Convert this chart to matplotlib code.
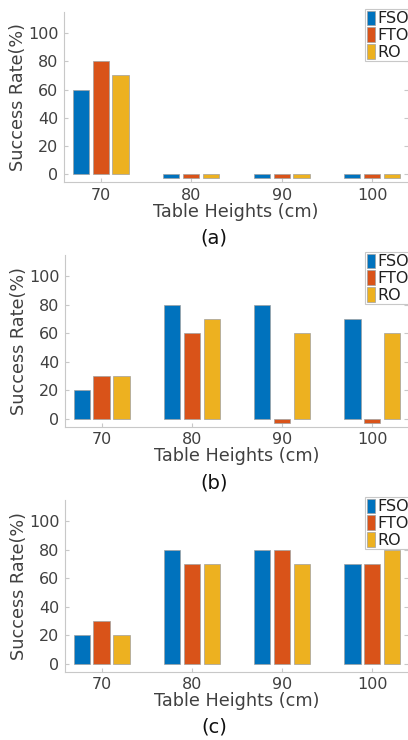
import matplotlib
matplotlib.use("Agg")
import matplotlib.pyplot as plt
import numpy as np

categories = ["70", "80", "90", "100"]
series_names = ["FSO", "FTO", "RO"]
colors = ["#0072BD", "#D95319", "#EDB120"]

# zero values are drawn as small negative stubs (as in the original)
panel_a = {"FSO": [60, -3, -3, -3], "FTO": [80, -3, -3, -3], "RO": [70, -3, -3, -3]}
panel_b = {"FSO": [20, 80, 80, 70], "FTO": [30, 60, -3, -3], "RO": [30, 70, 60, 60]}
panel_c = {"FSO": [20, 80, 80, 70], "FTO": [30, 70, 80, 70], "RO": [20, 70, 70, 80]}
panels = [panel_a, panel_b, panel_c]
panel_tags = ["(a)", "(b)", "(c)"]
yticks = [0, 20, 40, 60, 80, 100]

W, H = 408, 740
fig = plt.figure(figsize=(W / 100, H / 100), dpi=100)

# (left px, top px, bottom px)
boxes = [(64, 12, 182), (65, 255, 426.7), (65, 500, 671.7)]
tag_y = [238, 483, 727]

axis_gray = "#c8c8c8"
text_gray = "#404040"

x = np.arange(1, len(categories) + 1)
offsets = [-0.22, 0.0, 0.22]
bw = 0.18

for data, (lpx, tpx, bpx), tag, ty in zip(panels, boxes, panel_tags, tag_y):
    axw = W - lpx
    axh = bpx - tpx
    ax = fig.add_axes([lpx / W, (H - bpx) / H, axw / W, axh / H])
    for name, col, off in zip(series_names, colors, offsets):
        ax.bar(x + off, data[name], width=bw, color=col, edgecolor="#a0a0a0",
               linewidth=0.5, label=name, zorder=2)
    ax.set_xlim(0.595, 4.395)
    ax.set_ylim(-5.6, 115)
    ax.set_xticks(x)
    ax.set_xticklabels(categories)
    ax.set_yticks(yticks)
    for s in ["top", "right"]:
        ax.spines[s].set_visible(False)
    for s in ["left", "bottom"]:
        ax.spines[s].set_color(axis_gray)
        ax.spines[s].set_linewidth(0.8)
    ax.tick_params(axis="both", direction="in", length=3, color=axis_gray,
                   labelsize=11.5, labelcolor=text_gray, pad=4)
    ax.tick_params(axis="y", right=True)
    ax.set_xlabel("Table Heights (cm)", fontsize=12.7, color=text_gray, labelpad=0)
    ax.set_ylabel("Success Rate(%)", fontsize=12.7, color=text_gray, labelpad=1)
    leg = ax.legend(loc="upper left",
                    bbox_to_anchor=((365 - lpx) / axw, 1 + 3 / axh),
                    fontsize=11.5,
                    handlelength=0.55, handleheight=1.05, handletextpad=0.1,
                    borderpad=0.1, labelspacing=0.05, borderaxespad=0.0,
                    fancybox=False, framealpha=1)
    leg.get_frame().set_edgecolor(axis_gray)
    leg.get_frame().set_linewidth(0.8)
    for t in leg.get_texts():
        t.set_color("#202020")
    fig.text(0.525, (H - ty) / H, tag, ha="center", va="center", fontsize=14,
             color="#101010")

fig.savefig("out.png", dpi=100)
